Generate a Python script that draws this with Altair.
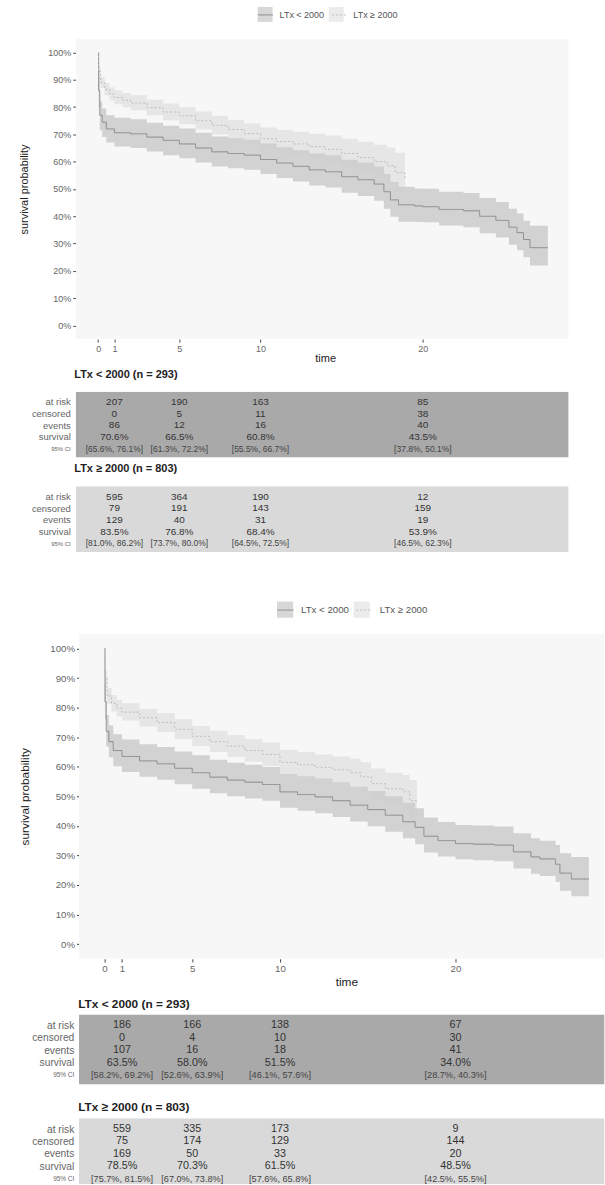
import altair as alt
import pandas as pd

FONT = "Liberation Sans"
GROUPS = ["LTx < 2000", "LTx ≥ 2000"]
# the line legend uses the same labels (a trailing space keeps it a separate legend from the band legend)
LINE_GROUPS = [g + " " for g in GROUPS]

# ---------------- top panel: Kaplan-Meier curves (survival in %) ----------------
ta_t = [0, 0.03, 0.1, 0.25, 0.5, 1.0, 2.0, 3.0, 4.0, 5.0, 6.0, 7.0, 8.0, 9.0, 10.0, 11.0, 12.0, 13.0, 14.0,
        15.0, 16.0, 17.0, 17.6, 18.0, 18.5, 19.5, 20.0, 21.0, 22.5, 23.5, 24.5, 25.3, 25.8, 26.2, 26.6, 27.7]
ta_s = [100, 86, 77, 74.5, 72, 70.6, 70.2, 69, 67.8, 66.5, 65, 63.6, 63, 62.4, 60.8, 59.5, 58.3, 57, 56.3,
        54.5, 53.4, 51.8, 49, 46, 44.2, 43.8, 43.5, 42.5, 42, 40, 38.5, 36, 34, 31.5, 28.5, 28.5]
ta_lo = [100, 80, 71.5, 69, 67, 65.6, 65, 63.7, 62.4, 61.3, 59.7, 58.2, 57.6, 57, 55.5, 54, 52.7, 51.3, 50.5,
         48.6, 47.4, 45.7, 42.8, 39.8, 38, 37.9, 37.8, 36.6, 36, 33.8, 32.2, 29.6, 27.6, 25, 22, 22]
ta_hi = [100, 91, 82, 79.5, 77, 76.1, 75.5, 74.3, 73.2, 72.2, 70.6, 69.2, 68.6, 68, 66.7, 65.3, 64.2, 63, 62.4,
         60.7, 59.7, 58.2, 55.5, 52.6, 50.8, 50.2, 50.1, 49, 48.5, 46.7, 45.2, 42.8, 41, 38.4, 36.5, 36.5]

tb_t = [0, 0.03, 0.15, 0.4, 0.7, 1.0, 1.5, 2.0, 3.0, 4.0, 5.0, 6.0, 7.0, 8.0, 9.0, 10.0, 11.0, 12.0, 13.0,
        14.0, 15.0, 16.0, 17.0, 17.8, 18.3, 18.9]
tb_s = [100, 93, 89, 86.5, 84.8, 83.5, 82.5, 81.5, 79.8, 78.2, 76.8, 75, 73.3, 71.8, 70.3, 68.4, 67.4, 66.5,
        65.5, 64.5, 63, 61.5, 60, 58.5, 56, 53.9]
tb_lo = [100, 91, 87, 84.3, 82.4, 81, 79.9, 78.8, 77, 75.2, 73.7, 71.8, 70, 68.3, 66.7, 64.5, 63.3, 62.2, 61,
         59.8, 58, 56, 54, 52, 49, 46.5]
tb_hi = [100, 95, 91, 88.8, 87.3, 86.2, 85.2, 84.3, 82.7, 81.3, 80, 78.4, 76.8, 75.3, 74, 72.5, 71.6, 71,
         70.2, 69.6, 68.4, 67.3, 66.2, 65.2, 63.3, 62.3]

# ---------------- bottom panel ----------------
ba_t = [0, 0.03, 0.1, 0.25, 0.5, 1.0, 2.0, 3.0, 4.0, 5.0, 6.0, 7.0, 8.0, 9.0, 10.0, 11.0, 12.0, 13.0, 14.0,
        15.0, 16.0, 17.0, 17.7, 18.2, 19.0, 20.0, 21.0, 22.2, 23.3, 24.3, 24.8, 25.7, 25.95, 26.6, 27.6]
ba_s = [100, 82, 72, 68.5, 65.5, 63.5, 62, 61, 59.5, 58, 56.5, 55.5, 54.8, 54, 51.5, 50.6, 49.8, 48.5, 47,
        45.5, 43.6, 41.4, 39.5, 36.5, 35, 34, 33.8, 33.5, 31.2, 29.5, 28.8, 27, 24, 22, 22]
ba_lo = [100, 76, 66.8, 63.2, 60.2, 58.2, 56.6, 55.6, 54.1, 52.6, 51, 50, 49.3, 48.5, 46.1, 45.1, 44.3, 43, 41.5,
         39.9, 38, 35.8, 33.8, 31, 29.6, 28.7, 28.4, 28, 25.6, 23.8, 23, 21, 18, 16.2, 16.2]
ba_hi = [100, 88, 77.5, 74, 71, 69.2, 67.6, 66.7, 65.2, 63.9, 62.4, 61.4, 60.7, 59.9, 57.6, 56.8, 56, 54.8, 53.3,
         51.8, 50, 47.8, 46, 42.8, 41.3, 40.3, 40.1, 39.8, 37.5, 35.8, 35, 33.5, 30.7, 29.5, 29.5]

bb_t = [0, 0.03, 0.15, 0.4, 0.7, 1.0, 2.0, 3.0, 4.0, 5.0, 6.0, 7.0, 8.0, 9.0, 10.0, 11.0, 12.0, 13.0, 14.0,
        14.6, 15.2, 16.0, 17.0, 17.4, 17.8]
bb_s = [100, 90, 84, 81.5, 79.8, 78.5, 76.6, 75, 72.7, 70.3, 68.5, 67, 65.5, 64.2, 61.5, 60.7, 59.8, 59, 58,
        56.6, 54.3, 52.6, 51.5, 48.5, 48.5]
bb_lo = [100, 87.5, 81.3, 78.7, 77, 75.7, 73.6, 71.8, 69.4, 67.0, 65, 63.3, 61.7, 60.3, 57.6, 56.6, 55.6, 54.6,
         53.4, 51.8, 49.2, 47.2, 45.8, 42.5, 42.5]
bb_hi = [100, 92.5, 86.7, 84.3, 82.6, 81.5, 79.6, 78.2, 76.1, 73.8, 72.2, 70.8, 69.4, 68.2, 65.8, 65, 64.2, 63.5,
         62.7, 61.5, 59.4, 58, 57.2, 55.5, 55.5]

# ---------------- risk tables ----------------
TABLE_TIMES = [1, 5, 10, 20]
ROW_NAMES = ["at risk", "censored", "events", "survival", "95% CI"]
X_TICKS = [0, 1, 5, 10, 20]

t1a_title = "LTx < 2000 (n = 293)"
t1a_risk = [207, 190, 163, 85]
t1a_cens = [0, 5, 11, 38]
t1a_evt = [86, 12, 16, 40]
t1a_surv = ["70.6%", "66.5%", "60.8%", "43.5%"]
t1a_ci = ["[65.6%, 76.1%]", "[61.3%, 72.2%]", "[55.5%, 66.7%]", "[37.8%, 50.1%]"]

t1b_title = "LTx ≥ 2000 (n = 803)"
t1b_risk = [595, 364, 190, 12]
t1b_cens = [79, 191, 143, 159]
t1b_evt = [129, 40, 31, 19]
t1b_surv = ["83.5%", "76.8%", "68.4%", "53.9%"]
t1b_ci = ["[81.0%, 86.2%]", "[73.7%, 80.0%]", "[64.5%, 72.5%]", "[46.5%, 62.3%]"]

t2a_title = "LTx < 2000 (n = 293)"
t2a_risk = [186, 166, 138, 67]
t2a_cens = [0, 4, 10, 30]
t2a_evt = [107, 16, 18, 41]
t2a_surv = ["63.5%", "58.0%", "51.5%", "34.0%"]
t2a_ci = ["[58.2%, 69.2%]", "[52.6%, 63.9%]", "[46.1%, 57.6%]", "[28.7%, 40.3%]"]

t2b_title = "LTx ≥ 2000 (n = 803)"
t2b_risk = [559, 335, 173, 9]
t2b_cens = [75, 174, 129, 144]
t2b_evt = [169, 50, 33, 20]
t2b_surv = ["78.5%", "70.3%", "61.5%", "48.5%"]
t2b_ci = ["[75.7%, 81.5%]", "[67.0%, 73.8%]", "[57.6%, 65.8%]", "[42.5%, 55.5%]"]

BAND_COLORS = ["#9a9a9a", "#cdcdcd"]
LINE_COLORS = ["#8a8a8a", "#bdbdbd"]
BOX_COLORS = ["#a9a9a9", "#d9d9d9"]
LABEL_EM = 5.031  # advance width of "LTx < 2000" in em (Arial metrics)


def km_frame(t, s, lo, hi, k):
    return pd.DataFrame({
        "t": t,
        "s": [v / 100 for v in s],
        "lo": [v / 100 for v in lo],
        "hi": [v / 100 for v in hi],
        "grp": GROUPS[k],
        "grp_line": LINE_GROUPS[k],
    })


def km_chart(dfs, xdom, bg_x0, width, height, f, legx, legy, colpad, yoff, ytitle_x, xtitle_x, xtitle_y):
    df = pd.concat(dfs, ignore_index=True)
    xscale = alt.Scale(domain=xdom, nice=False, zero=False)
    yscale = alt.Scale(domain=[-0.05, 1.05], nice=False, zero=False)
    xaxis = alt.Axis(values=X_TICKS, format="d", title="time", grid=False, domain=False,
                     tickSize=3 * f, tickColor="#444", tickWidth=1,
                     labelFont=FONT, labelFontSize=9 * f, labelColor="#666", labelPadding=2,
                     titleFont=FONT, titleFontSize=11 * f, titleFontWeight="normal", titleColor="#222",
                     titleX=xtitle_x, titleY=xtitle_y, titleBaseline="middle", titleAlign="center")
    yaxis = alt.Axis(values=[i / 10 for i in range(11)], format=".0%", title="survival probability",
                     grid=False, domain=False, offset=yoff,
                     tickSize=3 * f, tickColor="#444", tickWidth=1,
                     labelFont=FONT, labelFontSize=9 * f, labelColor="#666", labelPadding=2,
                     titleFont=FONT, titleFontSize=11 * f, titleFontWeight="normal", titleColor="#222",
                     titleAngle=270, titleX=ytitle_x, titleY=height / 2, titleBaseline="middle",
                     titleAlign="center")
    sym = (15 * f) ** 2
    lab_fs = 9 * f
    common_leg = dict(orient="none", legendX=legx, legendY=legy, direction="horizontal", title=None,
                      labelFont=FONT, labelFontSize=lab_fs, labelColor="#555", labelOffset=6 * f,
                      padding=0, symbolSize=sym, labelLimit=200)
    # band key: filled squares only, no label text (label room kept through the column padding)
    fill_leg = alt.Legend(symbolType="square", symbolOpacity=0.4, symbolStrokeWidth=0, labelExpr="''",
                          columnPadding=colpad + LABEL_EM * lab_fs, **common_leg)
    # line key drawn on top of the squares, carrying the labels
    line_leg = alt.Legend(symbolType="stroke", symbolStrokeWidth=1, labelExpr="trim(datum.label)",
                          columnPadding=colpad, **common_leg)

    bgdf = pd.DataFrame({"x0": [bg_x0], "x1": [xdom[1]], "y0": [-0.05], "y1": [1.05]})
    bg = alt.Chart(bgdf).mark_rect(fill="#f7f7f7", clip=True).encode(
        x=alt.X("x0:Q", scale=xscale, axis=xaxis), x2="x1:Q",
        y=alt.Y("y0:Q", scale=yscale, axis=yaxis), y2="y1:Q")
    band = alt.Chart(df).mark_area(interpolate="step-after", opacity=0.4, clip=True).encode(
        x=alt.X("t:Q", scale=xscale, axis=xaxis),
        y=alt.Y("lo:Q", scale=yscale, axis=yaxis), y2="hi:Q",
        fill=alt.Fill("grp:N", scale=alt.Scale(domain=GROUPS, range=BAND_COLORS), legend=fill_leg))
    line = alt.Chart(df).mark_line(interpolate="step-after", strokeWidth=1, clip=True).encode(
        x=alt.X("t:Q", scale=xscale, axis=xaxis),
        y=alt.Y("s:Q", scale=yscale, axis=yaxis),
        stroke=alt.Stroke("grp_line:N", scale=alt.Scale(domain=LINE_GROUPS, range=LINE_COLORS),
                          legend=line_leg),
        strokeDash=alt.StrokeDash("grp_line:N", scale=alt.Scale(domain=LINE_GROUPS, range=[[1, 0], [2, 2]]),
                                  legend=line_leg))
    return alt.layer(bg, band, line).properties(width=width, height=height)


def table_chart(title, risk, cens, evt, surv, ci, box_color, xdom, box_x0, width, height, nom_h, f,
                label_pad, title_dx, title_off):
    p0, p4 = 0.155 * nom_h, 0.865 * nom_h
    step = (p4 - p0) / 4
    r_top = -p0 / step
    r_bot = 4 + (height - p4) / step
    xscale = alt.Scale(domain=xdom, nice=False, zero=False)
    yscale = alt.Scale(domain=[r_top, r_bot], reverse=True, nice=False, zero=False)
    yaxis = alt.Axis(values=[0, 1, 2, 3, 4],
                     labelExpr="['at risk','censored','events','survival','95% CI'][datum.value]",
                     labelFontSize={"expr": f"datum.value == 4 ? {6 * f} : {9.5 * f}"},
                     labelColor="#666", labelFont=FONT, ticks=False, domain=False, grid=False,
                     labelPadding=label_pad, title=None, labelBaseline="middle")
    rows = []
    for r, vals in enumerate([risk, cens, evt, surv]):
        for t, v in zip(TABLE_TIMES, vals):
            rows.append({"t": t, "r": r, "txt": str(v)})
    vdf = pd.DataFrame(rows)
    cdf = pd.DataFrame({"t": TABLE_TIMES, "r": [4] * 4, "txt": ci})
    boxdf = pd.DataFrame({"x0": [box_x0], "x1": [xdom[1]], "y0": [r_top], "y1": [r_bot]})
    box = alt.Chart(boxdf).mark_rect(fill=box_color, clip=True).encode(
        x=alt.X("x0:Q", scale=xscale, axis=None), x2="x1:Q",
        y=alt.Y("y0:Q", scale=yscale, axis=yaxis), y2="y1:Q")
    vals = alt.Chart(vdf).mark_text(font=FONT, fontSize=10 * f, color="#333", baseline="middle").encode(
        x=alt.X("t:Q", scale=xscale, axis=None),
        y=alt.Y("r:Q", scale=yscale, axis=yaxis), text="txt:N")
    cis = alt.Chart(cdf).mark_text(font=FONT, fontSize=8.5 * f, color="#444", baseline="middle").encode(
        x=alt.X("t:Q", scale=xscale, axis=None),
        y=alt.Y("r:Q", scale=yscale, axis=yaxis), text="txt:N")
    return alt.layer(box, vals, cis).properties(
        width=width, height=height,
        title=alt.TitleParams(title, anchor="start", frame="group", font=FONT, fontSize=11 * f,
                              fontWeight="bold", color="#222", baseline="middle", offset=title_off,
                              dx=title_dx))


def spacer(h):
    return alt.Chart(pd.DataFrame({"a": [0]})).mark_point(opacity=0).properties(width=10, height=h)


# geometry of the two panels
TOP_XDOM = [-1.38, 28.98]
TOP_W, TOP_H = 494.5, 301.3
BOT_XDOM = [-1.636, 28.49]
BOT_W, BOT_H = 530.5, 326
F2 = 1.08

km_top = km_chart([km_frame(ta_t, ta_s, ta_lo, ta_hi, 0), km_frame(tb_t, tb_s, tb_lo, tb_hi, 1)],
                  TOP_XDOM, -1.38, TOP_W, TOP_H, 1.0, 182.5, -32, 5, 0, -51.5, TOP_W / 2 + 3, 19.3)
km_bot = km_chart([km_frame(ba_t, ba_s, ba_lo, ba_hi, 0), km_frame(bb_t, bb_s, bb_lo, bb_hi, 1)],
                  BOT_XDOM, -1.45, BOT_W, BOT_H, F2, 201.5, -33, 4, -4, -55.5, 271.5, 22.7)

t1a = table_chart(t1a_title, t1a_risk, t1a_cens, t1a_evt, t1a_surv, t1a_ci, BOX_COLORS[0], TOP_XDOM, -1.38,
                  TOP_W, 66, 66, 1.0, 5.5, -1.5, 6)
t1b = table_chart(t1b_title, t1b_risk, t1b_cens, t1b_evt, t1b_surv, t1b_ci, BOX_COLORS[1], TOP_XDOM, -1.38,
                  TOP_W, 66, 66, 1.0, 5.5, -1.5, 6)
t2a = table_chart(t2a_title, t2a_risk, t2a_cens, t2a_evt, t2a_surv, t2a_ci, BOX_COLORS[0], BOT_XDOM, -1.45,
                  BOT_W, 70, 70, F2, 2, 2.5, -1)
t2b = table_chart(t2b_title, t2b_risk, t2b_cens, t2b_evt, t2b_surv, t2b_ci, BOX_COLORS[1], BOT_XDOM, -1.45,
                  BOT_W, 66, 70, F2, 2, 2.5, -1)

chart = alt.vconcat(
    km_top, spacer(51.7), t1a, spacer(29), t1b, spacer(82),
    km_bot, spacer(56), t2a, spacer(34), t2b,
    spacing=0, bounds="flush",
).resolve_scale(
    x="independent", y="independent", fill="independent", stroke="independent", strokeDash="independent"
).resolve_legend(
    fill="independent", stroke="independent", strokeDash="independent"
).properties(
    padding={"left": 18, "top": 5, "right": 0, "bottom": 0}, background="white"
).configure(font=FONT).configure_view(stroke=None)

chart.save("out.html", embed_options={"renderer": "svg", "actions": False})
